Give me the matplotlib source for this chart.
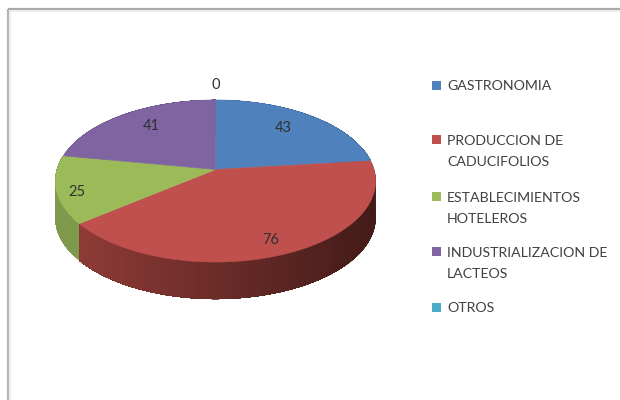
import numpy as np
import matplotlib
matplotlib.use('Agg')
import matplotlib.pyplot as plt
from matplotlib.patches import Polygon, Rectangle

plt.rcParams['font.family'] = ['Lato', 'DejaVu Sans']

Categories = ['GASTRONOMIA', 'PRODUCCION DE\nCADUCIFOLIOS', 'ESTABLECIMIENTOS\nHOTELEROS',
              'INDUSTRIALIZACION DE\nLACTEOS', 'OTROS']
Values = [43, 76, 25, 41, 0]
Colors = ['#4F81BD', '#C0504D', '#9BBB59', '#8064A2', '#4BACC6']
# side wall colours, left end of the rim then right end
SideLeft = ['#3A6090', '#8E3B37', '#7F9A4C', '#5F4A7A', '#38808F']
SideRight = ['#2C4A6E', '#431B18', '#7F9A4C', '#5F4A7A', '#38808F']

# where the labels sit, in pixels
LabelPos = [(283, 128), (271, 240), (77, 192), (151, 126), (216, 85)]
LegendY = [85, 139, 196, 251, 307]

# tilted disc: centre, radii, perspective and wall height in pixels
CX, CY = 215.5, 169.5
A, B, P = 158.5, 79.4, 0.142
Depth = 37


def Project(deg):
  # clockwise degrees from 12 o'clock to picture position
  t = np.radians(deg)
  u, v = np.sin(t), np.cos(t)
  w = 1 + P * v
  return CX + A * u / w, CY - B * v / w


def Mix(c1, c2, f):
  a = np.array(matplotlib.colors.to_rgb(c1))
  b = np.array(matplotlib.colors.to_rgb(c2))
  return tuple(a + (b - a) * f)


fig = plt.figure(figsize=(6.2, 4.0), dpi=100, facecolor='w')
ax = fig.add_axes([0, 0, 1, 1])
ax.set_xlim(0, 620)
ax.set_ylim(400, 0)
ax.axis('off')

# frame, only top and left show up in the picture
ax.plot([7.5, 620], [8.5, 8.5], color='#A8A8A8', lw=1.6, solid_capstyle='butt')
ax.plot([7.5, 7.5], [8.5, 400], color='#B4B4B4', lw=1.6, solid_capstyle='butt')
ax.plot([9.5, 620], [10.5, 10.5], color='#EDEDED', lw=1.5, solid_capstyle='butt')
ax.plot([9.5, 9.5], [10.5, 400], color='#EDEDED', lw=1.5, solid_capstyle='butt')

Total = float(sum(Values))
Edges = np.concatenate([[0], np.cumsum(Values)]) / Total * 360

# walls first, every piece runs to the end of the slice so no seams show
for i in range(len(Values)):
  if Values[i] == 0:
    continue
  steps = np.linspace(Edges[i], Edges[i + 1], 80)
  xs, ys = Project(steps)
  x0, x1 = xs.min(), xs.max()
  order = np.arange(len(steps) - 1)
  for j in order:
    f = (0.5 * (xs[j] + xs[j + 1]) - x0) / max(x1 - x0, 1)
    c = Mix(SideLeft[i], SideRight[i], f)
    top = list(zip(xs[j:], ys[j:]))
    bottom = [(x, y + Depth) for x, y in top][::-1]
    ax.add_patch(Polygon(top + bottom, closed=True, fc=c, ec='none', zorder=1 + j * 0.001))

# top faces
for i in range(len(Values)):
  if Values[i] == 0:
    continue
  steps = np.linspace(Edges[i], Edges[i + 1], 120)
  xs, ys = Project(steps)
  pts = [(CX, CY)] + list(zip(xs, ys))
  ax.add_patch(Polygon(pts, closed=True, fc=Colors[i], ec=Colors[i], lw=0.4, zorder=2))

for i in range(len(Values)):
  ax.text(LabelPos[i][0], LabelPos[i][1], str(Values[i]), fontsize=10.5,
          color='#303030', ha='center', va='center', zorder=3)

for i in range(len(Categories)):
  ax.add_patch(Rectangle((432, LegendY[i] - 4.5), 9, 9, fc=Colors[i], ec='none'))
  two = '\n' in Categories[i]
  ax.text(447, LegendY[i] + (12.5 if two else 0.5), Categories[i], fontsize=10.2, color='#404040',
          ha='left', va='center', linespacing=1.9)

fig.savefig('out.png', dpi=100, facecolor='w')
